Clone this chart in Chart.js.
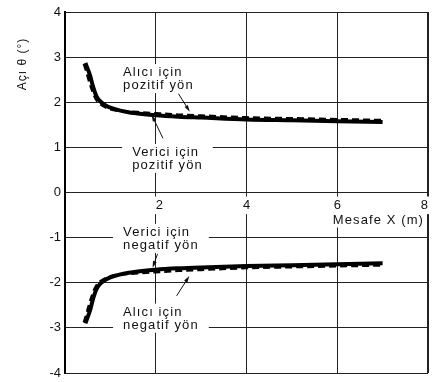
<!DOCTYPE html>
<html>
<head>
<meta charset="utf-8">
<script src="https://cdn.jsdelivr.net/npm/chart.js@4.4.1/dist/chart.umd.min.js"></script>
<style>
  body { margin: 0; background: #fff; }
  #wrap { width: 437px; height: 382px; }
</style>
</head>
<body>
<div id="wrap"><canvas id="angleChart"></canvas></div>
<script>
// Açı θ (°) against Mesafe X (m)

// solid curves (Verici için ...)
const verX = [0.45, 0.5, 0.55, 0.62, 0.7, 0.8, 0.9, 1.0, 1.2, 1.4, 1.7, 2.0, 2.5, 3.0, 4.0, 5.0, 6.0, 7.0];
const verPos = [2.87, 2.74, 2.6, 2.34, 2.12, 2.0, 1.93, 1.88, 1.82, 1.78, 1.74, 1.71, 1.68, 1.66, 1.62, 1.60, 1.58, 1.56];
const verNeg = [-2.9, -2.76, -2.62, -2.35, -2.13, -2.0, -1.93, -1.88, -1.82, -1.78, -1.74, -1.71, -1.68, -1.66, -1.63, -1.61, -1.59, -1.57];

// dashed curves (Alıcı için ...)
const aliX = [0.42, 0.47, 0.52, 0.59, 0.67, 0.77, 0.9, 1.0, 1.2, 1.4, 1.7, 2.0, 2.5, 3.0, 4.0, 5.0, 6.0, 7.0];
const aliPos = [2.85, 2.7, 2.52, 2.3, 2.1, 1.97, 1.89, 1.85, 1.81, 1.79, 1.77, 1.75, 1.72, 1.70, 1.66, 1.64, 1.62, 1.60];
const aliNeg = [-2.88, -2.72, -2.54, -2.31, -2.11, -1.98, -1.9, -1.86, -1.82, -1.8, -1.78, -1.76, -1.73, -1.71, -1.67, -1.65, -1.63, -1.61];

const xTicks = [0, 2, 4, 6, 8];
const yTicks = [-4, -3, -2, -1, 0, 1, 2, 3, 4];

const yTitle = 'Açı θ (°)';
const xTitle = 'Mesafe X (m)';

// callout texts: left edge / first baseline in data units
const notes = [
    { lines: ['Alıcı için', 'pozitif yön'], x: 1.28, y: 2.58 },
    { lines: ['Verici için', 'pozitif yön'], x: 1.48, y: 0.81 },
    { lines: ['Verici için', 'negatif yön'], x: 1.28, y: -0.96 },
    { lines: ['Alıcı için', 'negatif yön'], x: 1.28, y: -2.73 }
];
const arrows = [
    { from: [2.50, 2.19], to: [2.75, 1.79] },
    { from: [2.16, 1.20], to: [1.91, 1.72] },
    { from: [2.04, -1.36], to: [1.93, -1.67] },
    { from: [2.46, -2.29], to: [2.74, -1.85] }
];

const FONT = '"Liberation Sans", Arial, Helvetica, sans-serif';

function toPoints(xs, ys) {
    return xs.map((x, i) => ({ x: x, y: ys[i] }));
}

const calloutPlugin = {
    id: 'callouts',
    afterDatasetsDraw(chart) {
        const ctx = chart.ctx;
        const sx = chart.scales.x;
        const sy = chart.scales.y;
        const area = chart.chartArea;
        ctx.save();
        ctx.font = '13px ' + FONT;
        ctx.letterSpacing = '1.1px';
        ctx.textBaseline = 'alphabetic';
        ctx.textAlign = 'left';

        notes.forEach(n => {
            const left = sx.getPixelForValue(n.x);
            const base = sy.getPixelForValue(n.y);
            const w = Math.max(...n.lines.map(t => ctx.measureText(t).width));
            ctx.fillStyle = '#fff';
            ctx.fillRect(left - 10, base - 12, w + 20, 13 * n.lines.length + 3);
            ctx.fillStyle = '#111';
            n.lines.forEach((t, i) => ctx.fillText(t, left, base + i * 13));
        });

        ctx.strokeStyle = '#111';
        ctx.fillStyle = '#111';
        ctx.lineWidth = 1;
        arrows.forEach(a => {
            const x1 = sx.getPixelForValue(a.from[0]), y1 = sy.getPixelForValue(a.from[1]);
            const x2 = sx.getPixelForValue(a.to[0]), y2 = sy.getPixelForValue(a.to[1]);
            const ang = Math.atan2(y2 - y1, x2 - x1);
            ctx.beginPath();
            ctx.moveTo(x1, y1);
            ctx.lineTo(x2 - 4 * Math.cos(ang), y2 - 4 * Math.sin(ang));
            ctx.stroke();
            ctx.beginPath();
            ctx.moveTo(x2, y2);
            ctx.lineTo(x2 - 7 * Math.cos(ang - 0.28), y2 - 7 * Math.sin(ang - 0.28));
            ctx.lineTo(x2 - 7 * Math.cos(ang + 0.28), y2 - 7 * Math.sin(ang + 0.28));
            ctx.closePath();
            ctx.fill();
        });

        // x axis title sits inside the plot, under the tick labels
        const tw = ctx.measureText(xTitle).width;
        const tx = area.right - 4 - tw;
        const ty = sy.getPixelForValue(0) + 31;
        ctx.fillStyle = '#fff';
        ctx.fillRect(tx - 2, ty - 11, tw + 4, 15);
        ctx.fillStyle = '#111';
        ctx.fillText(xTitle, tx, ty);

        // y axis title, rotated, near the top
        ctx.translate(23, 64);
        ctx.rotate(-Math.PI / 2);
        ctx.font = '12px ' + FONT;
        ctx.letterSpacing = '1px';
        ctx.textAlign = 'center';
        ctx.textBaseline = 'middle';
        ctx.fillText(yTitle, 0, 0);
        ctx.restore();
    }
};

new Chart(document.getElementById('angleChart'), {
    type: 'line',
    data: {
        datasets: [
            {
                label: 'Verici için pozitif yön',
                data: toPoints(verX, verPos),
                borderColor: '#000',
                borderWidth: 4,
                borderDash: [],
                pointRadius: 0,
                cubicInterpolationMode: 'monotone'
            },
            {
                label: 'Verici için negatif yön',
                data: toPoints(verX, verNeg),
                borderColor: '#000',
                borderWidth: 4,
                borderDash: [],
                pointRadius: 0,
                cubicInterpolationMode: 'monotone'
            },
            {
                label: 'Alıcı için pozitif yön',
                data: toPoints(aliX, aliPos),
                borderColor: '#000',
                borderWidth: 3,
                borderDash: [7, 4],
                pointRadius: 0,
                cubicInterpolationMode: 'monotone'
            },
            {
                label: 'Alıcı için negatif yön',
                data: toPoints(aliX, aliNeg),
                borderColor: '#000',
                borderWidth: 3,
                borderDash: [7, 4],
                pointRadius: 0,
                cubicInterpolationMode: 'monotone'
            }
        ]
    },
    options: {
        responsive: true,
        maintainAspectRatio: false,
        animation: false,
        layout: {
            padding: { left: 0, right: 9, top: 12, bottom: 9 }
        },
        plugins: {
            legend: { display: false },
            tooltip: { enabled: false }
        },
        scales: {
            x: {
                type: 'linear',
                position: { y: 0 },
                min: 0,
                max: 8,
                afterBuildTicks: (scale) => {
                    scale.ticks = xTicks.map(v => ({ value: v }));
                },
                grid: {
                    color: '#222',
                    lineWidth: (c) => (c.tick && c.tick.value === 8 ? 2 : 1),
                    drawTicks: false
                },
                border: { display: false },
                ticks: {
                    align: 'inner',
                    padding: 5,
                    color: '#111',
                    font: { family: FONT, size: 13 },
                    showLabelBackdrop: true,
                    backdropColor: '#fff',
                    backdropPadding: 1,
                    callback: (v) => (v === 0 ? null : String(v))
                }
            },
            y: {
                type: 'linear',
                min: -4,
                max: 4,
                afterBuildTicks: (scale) => {
                    scale.ticks = yTicks.map(v => ({ value: v }));
                },
                afterFit: (scale) => {
                    scale.width = 65;
                    scale.paddingTop = 0;
                    scale.paddingBottom = 0;
                },
                grid: {
                    color: '#222',
                    lineWidth: 1,
                    drawTicks: false
                },
                border: { display: true, color: '#000', width: 2 },
                ticks: {
                    padding: 4,
                    color: '#111',
                    font: { family: FONT, size: 13 }
                }
            }
        }
    },
    plugins: [calloutPlugin]
});
</script>
</body>
</html>
